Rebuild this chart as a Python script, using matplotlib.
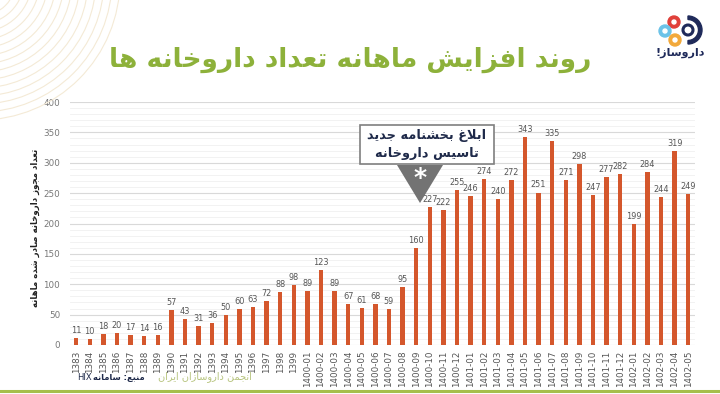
import numpy as np
import matplotlib
matplotlib.use("Agg")
import matplotlib.pyplot as plt
from matplotlib.patches import Circle, Polygon, Rectangle, Wedge

# monthly pharmacy permits
periods = [str(y) for y in range(1383, 1400)] + \
          ["1400-%02d" % m for m in range(1, 13)] + \
          ["1401-%02d" % m for m in range(1, 13)] + \
          ["1402-%02d" % m for m in range(1, 6)]
counts = [11, 10, 18, 20, 17, 14, 16,
          57, 43, 31, 36, 50, 60, 63, 72, 88, 98,
          89, 123, 89, 67, 61, 68, 59, 95, 160, 227, 222, 255,
          246, 274, 240, 272, 343, 251, 335, 271, 298, 247, 277, 282,
          199, 284, 244, 319, 249]

title = "روند افزایش ماهانه تعداد داروخانه ها"
ylabel = "تعداد مجوز داروخانه صادر شده ماهانه"
note = ["ابلاغ بخشنامه جدید", "تاسیس داروخانه"]
source = "منبع: سامانه"
org = "انجمن داروسازان ایران"
brand = "داروساز!"

# simple arabic shaping (matplotlib has no shaper)
FORMS = {
    'ا': '\uFE8D\uFE8E', 'ب': '\uFE8F\uFE90\uFE91\uFE92',
    'ت': '\uFE95\uFE96\uFE97\uFE98', 'ج': '\uFE9D\uFE9E\uFE9F\uFEA0',
    'خ': '\uFEA5\uFEA6\uFEA7\uFEA8', 'د': '\uFEA9\uFEAA',
    'ر': '\uFEAD\uFEAE', 'ز': '\uFEAF\uFEB0',
    'س': '\uFEB1\uFEB2\uFEB3\uFEB4', 'ش': '\uFEB5\uFEB6\uFEB7\uFEB8',
    'ص': '\uFEB9\uFEBA\uFEBB\uFEBC', 'ع': '\uFEC9\uFECA\uFECB\uFECC',
    'غ': '\uFECD\uFECE\uFECF\uFED0', 'ف': '\uFED1\uFED2\uFED3\uFED4',
    'ل': '\uFEDD\uFEDE\uFEDF\uFEE0', 'م': '\uFEE1\uFEE2\uFEE3\uFEE4',
    'ن': '\uFEE5\uFEE6\uFEE7\uFEE8', 'ه': '\uFEE9\uFEEA\uFEEB\uFEEC',
    'و': '\uFEED\uFEEE', 'ی': '\uFEEF\uFEF0\uFEF3\uFEF4',
}


def shape(text):
    out = []
    prev = False
    i = 0
    while i < len(text):
        c = text[i]
        if c == 'ل' and i + 1 < len(text) and text[i + 1] == 'ا':
            out.append('\uFEFC' if prev else '\uFEFB')
            prev = False
            i += 2
            continue
        if c not in FORMS:
            out.append(c)
            prev = False
            i += 1
            continue
        f = FORMS[c]
        nxt = text[i + 1] if i + 1 < len(text) else ''
        fwd = len(f) == 4 and nxt in FORMS
        if prev and fwd:
            g = f[3]
        elif prev:
            g = f[1]
        elif fwd:
            g = f[2]
        else:
            g = f[0]
        out.append(g)
        prev = len(f) == 4
        i += 1
    return ''.join(reversed(out))


plt.rcParams['font.family'] = 'DejaVu Sans'

W, H = 720, 394
fig = plt.figure(figsize=(W / 100, H / 100), dpi=100)

# main chart
ax = fig.add_axes([70 / W, 49 / H, 625 / W, 243 / H], zorder=1)
ax.patch.set_alpha(0)
x = np.arange(len(periods))
bars = ax.bar(x, counts, width=0.32, color="#D4572C", zorder=3)
for xi, v in zip(x, counts):
    ax.text(xi, v + 5, str(v), ha="center", va="bottom", fontsize=5.9,
            color="#555555", zorder=4)

ax.set_xlim(-0.45, 45.5)
ax.set_ylim(0, 400)
ax.set_yticks(np.arange(0, 401, 50))
ax.set_yticks(np.arange(0, 401, 10), minor=True)
ax.grid(axis="y", which="major", color="#D9D9D9", lw=0.8, zorder=0)
ax.grid(axis="y", which="minor", color="#F0F0F0", lw=0.6, zorder=0)
ax.set_xticks(x)
ax.set_xticklabels(periods, rotation=90, fontsize=6.3, color="#555555")
ax.tick_params(axis="both", which="both", length=0, pad=4)
ax.tick_params(axis="y", labelsize=6.3, labelcolor="#777777", pad=7)
for s in ax.spines.values():
    s.set_visible(False)

# overlay layer in pixel coords
bg = fig.add_axes([0, 0, 1, 1], zorder=2)
bg.set_xlim(0, W)
bg.set_ylim(H, 0)
bg.axis("off")
bg.patch.set_alpha(0)
for r in range(36, 145, 8):
    bg.add_patch(Circle((-20, -20), r, fill=False, ec="#F4EAD6", lw=0.8))
bg.plot([0, W], [390.5, 390.5], color="#A6BF4B", lw=2.2)

# logo
bg.add_patch(Wedge((688, 30), 14, -90, 90, width=3.5, color="#1F2A5A"))
bg.add_patch(Circle((688, 30), 5, fill=False, ec="#1F2A5A", lw=2.2))
for cx, cy, col in [(674, 22, "#E0403A"), (665, 31, "#6CC3E8"),
                    (675, 40, "#F2A93B")]:
    bg.add_patch(Circle((cx, cy), 6, color=col))
    bg.add_patch(Circle((cx, cy), 2, color="white"))
bg.text(680, 53, shape(brand), ha="center", va="center", fontsize=8,
        color="#1F2A5A", fontweight="bold")

# title
bg.text(350, 60, shape(title), ha="center", va="center", fontsize=19,
        fontweight="bold", color="#8DB13A")

# y label
bg.text(35, 228, shape(ylabel), rotation=90, ha="center", va="center",
        fontsize=6.2, fontweight="bold", color="#222222")

# announcement box
bg.add_patch(Rectangle((360, 125), 134, 39, fc="white", ec="#7F7F7F",
                       lw=1.2, zorder=5))
bg.add_patch(Polygon([(397, 165), (443, 165), (420, 203)], closed=True,
                     fc="#737373", ec="none", zorder=5))
bg.text(427, 135, shape(note[0]), ha="center", va="center", fontsize=9.3,
        fontweight="bold", color="#1F2A4A", zorder=6)
bg.text(427, 153, shape(note[1]), ha="center", va="center", fontsize=9.3,
        fontweight="bold", color="#1F2A4A", zorder=6)
bg.text(420, 178, "*", ha="center", va="center", fontsize=18,
        fontweight="bold", color="white", zorder=6)

# footer
src = bg.text(145, 377, shape(source), ha="right", va="center", fontsize=6,
              fontweight="bold", color="#1F2A4A")
fig.canvas.draw()
sw = src.get_window_extent().width
bg.text(145 - sw - 2, 377, "HIX", ha="right", va="center", fontsize=6,
        color="#1F2A4A")
bg.text(205, 377, shape(org), ha="center", va="center", fontsize=7,
        color="#B7C47E")

fig.savefig("out.png", dpi=100, facecolor="white")
